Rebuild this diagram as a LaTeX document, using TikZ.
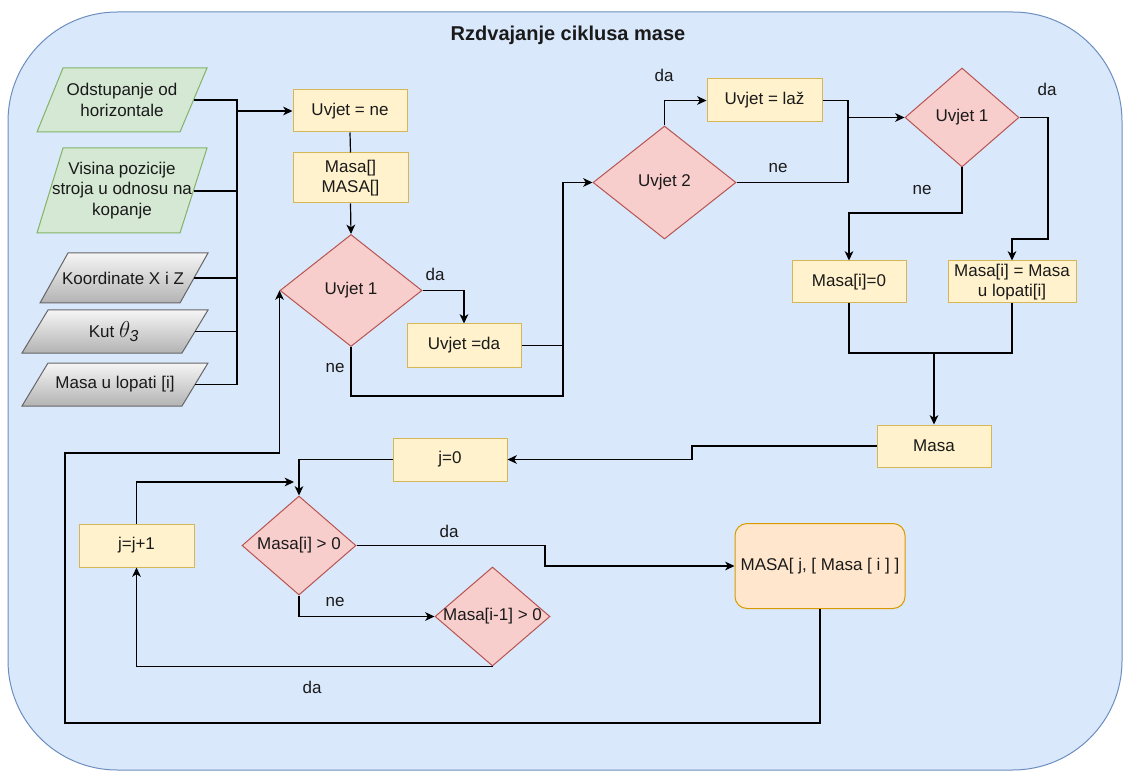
\documentclass[tikz,border=0pt]{standalone}
\usepackage{fontspec}
\setmainfont{Liberation Sans}
\usetikzlibrary{shapes.geometric,arrows.meta,calc}
\definecolor{bgfill}{HTML}{DAE8FC}
\definecolor{bgdraw}{HTML}{6C8EBF}
\definecolor{yfill}{HTML}{FFF2CC}
\definecolor{ydraw}{HTML}{D6B656}
\definecolor{rfill}{HTML}{F8CECC}
\definecolor{rdraw}{HTML}{B85450}
\definecolor{gfill}{HTML}{D5E8D4}
\definecolor{gdraw}{HTML}{82B366}
\definecolor{otop}{HTML}{F5F5F5}
\definecolor{obot}{HTML}{B3B3B3}
\definecolor{odraw}{HTML}{666666}
\definecolor{ofill}{HTML}{FFE6CC}
\definecolor{odrawb}{HTML}{D79B00}
\definecolor{txt}{HTML}{1A1A1A}
\begin{document}
\begin{tikzpicture}[x=0.75pt,y=-0.75pt,
  every node/.style={font=\fontsize{12.75}{15.5}\selectfont, text=txt},
  wh/.style 2 args={minimum width=#1*0.75pt, minimum height=#2*0.75pt},
  box/.style={draw=ydraw, fill=yfill, line width=0.75pt, inner sep=0pt, align=center},
  dia/.style={diamond, draw=rdraw, fill=rfill, line width=0.75pt, inner sep=0pt, aspect=1},
  finalbox/.style={draw=odrawb, fill=ofill, line width=0.75pt, inner sep=0pt, rounded corners=9pt, align=center},
  paragreen/.style={draw=gdraw, fill=gfill, line width=0.75pt},
  paragray/.style={draw=odraw, top color=otop, bottom color=obot, line width=0.75pt},
  wire/.style={draw=black, line width=0.9pt},
  arr/.style={wire, -{Stealth[length=7pt,width=6.5pt,inset=2pt]}},
  lbl/.style={inner sep=0pt}
]
\useasboundingbox (0,0) rectangle (1127,773);
% background container
\draw[fill=bgfill, draw=bgdraw, line width=0.75pt, rounded corners=82pt] (8,12) rectangle (1122,770);
\node[font=\bfseries\fontsize{15}{18}\selectfont] (title) at (568,35) {Rzdvajanje ciklusa mase};

% input parallelograms
\draw[paragreen] (63,68) -- (207,68) -- (180,132) -- (37,132) -- cycle;
\node[align=center] (in1) at (122,100) {Odstupanje od\\horizontale};
\coordinate (p1r) at (193.5,100);
\draw[paragreen] (63,148) -- (207,148) -- (180,233) -- (37,233) -- cycle;
\node[align=center] (in2) at (122,190.5) {Visina pozicije\\stroja u odnosu na\\kopanje};
\coordinate (p2r) at (193.5,191);
\draw[paragray] (68,253) -- (208,253) -- (180,303) -- (40,303) -- cycle;
\node (in3) at (123,278) {Koordinate X i Z};
\coordinate (p3r) at (194,278);
\draw[paragray] (48,310) -- (208,310) -- (182,353) -- (22,353) -- cycle;
\node (in4) at (114,331.5) {Kut {\fontsize{17}{19}\selectfont$\theta_{\mathit{3}}$}};
\coordinate (p4r) at (195,331.5);
\draw[paragray] (48,363) -- (208,363) -- (182,406) -- (22,406) -- cycle;
\node (in5) at (115,384.5) {Masa u lopati [i]};
\coordinate (p5r) at (195,384.5);

% process boxes
\node[box, wh={114}{42}] (ne) at (350,111) {Uvjet = ne};
\node[box, wh={115}{50}] (arrs) at (350.5,178) {Masa[]\\MASA[]};
\node[box, wh={114}{43}] (da) at (464,345.5) {Uvjet =da};
\node[box, wh={115}{43}] (laz) at (764.5,100.5) {Uvjet = laž};
\node[box, wh={114}{42}] (m0) at (849,282) {Masa[i]=0};
\node[box, wh={128}{42}] (mm) at (1012,282) {Masa[i] = Masa\\u lopati[i]};
\node[box, wh={114}{42}] (masa) at (934,446) {Masa};
\node[box, wh={114}{43}] (j0) at (450,459.5) {j=0};
\node[box, wh={115}{43}] (jj) at (136.5,545.5) {j=j+1};
\node[finalbox, wh={170}{85}] (fin) at (820,566) {MASA[ j, [ Masa [ i ] ]};

% decisions
\node[dia, wh={142}{112}] (u1) at (351,290.5) {};
\node (u1t) at (u1) {Uvjet 1};
\node[dia, wh={143}{113}] (u2) at (664.5,182.5) {};
\node (u2t) at (u2) {Uvjet 2};
\node[dia, wh={114}{99}] (u3) at (962,117.5) {};
\node (u3t) at (u3) {Uvjet 1};
\node[dia, wh={114}{99}] (c1) at (299,545.5) {};
\node (c1t) at (c1) {Masa[i] > 0};
\node[dia, wh={115}{99}] (c2) at (492.5,616.5) {};
\node (c2t) at (c2) {Masa[i-1] > 0};

% helper coordinates
\coordinate (busT) at (237,100);
\coordinate (busB) at (237,384.5);
\coordinate (jA) at (563,396);
\coordinate (jB) at (848,182.5);
\coordinate (kA) at (1048,239);
\coordinate (kB) at (849,213);
\coordinate (kC) at (934,353);
\coordinate (kD) at (692,446);
\coordinate (kE) at (294,482);
\coordinate (kF) at (545,545.5);
\coordinate (kG) at (65,723);
\coordinate (kH) at (65,453);

% input bus
\draw[wire] (p1r) -- (busT) -- (busB) -- (p5r);
\draw[wire] (p2r) -- (p2r -| busT);
\draw[wire] (p3r) -- (p3r -| busT);
\draw[wire] (p4r) -- (p4r -| busT);
\draw[arr] (busT |- ne.west) -- (ne.west);

% main flow
\draw[wire] (ne.south) -- (arrs.north);
\draw[arr] (arrs.south) -- (u1.north);
\draw[arr] (u1.east) -| (da.north);
\draw[arr] (u1.south) |- (jA) |- (u2.west);
\draw[wire] (da.east) -- (da.east -| jA);
\draw[arr] (u2.north) |- (laz.west);
\draw[wire] (laz.east) -| (jB) -- (u2.east);
\draw[arr] (u3.west -| jB) -- (u3.west);
\draw[arr] (u3.east) -| (kA) -| (mm.north);
\draw[arr] (u3.south) |- (kB) -- (m0.north);
\draw[wire] (m0.south) |- (kC) -| (mm.south);
\draw[arr] (kC) -- (masa.north);
\draw[arr] (masa.west) -- (kD) |- (j0.east);
\draw[arr] (j0.west) -| (c1.north);
\draw[arr] (jj.north) |- (kE);
\draw[arr] (c1.east) -- (kF) |- (fin.west);
\draw[arr] (c1.south) |- (c2.west);
\draw[arr] (c2.south) -| (jj.south);
\draw[arr] (fin.south) |- (kG) -- (kH) -| (u1.west);

% labels
\node[lbl] (l1) at (435,274) {da};
\node[lbl] (l2) at (335,368) {ne};
\node[lbl] (l3) at (664,75) {da};
\node[lbl] (l4) at (778,168) {ne};
\node[lbl] (l5) at (1047,89) {da};
\node[lbl] (l6) at (922,190) {ne};
\node[lbl] (l7) at (449,531) {da};
\node[lbl] (l8) at (335,602) {ne};
\node[lbl] (l9) at (312,687) {da};
\end{tikzpicture}
\end{document}
